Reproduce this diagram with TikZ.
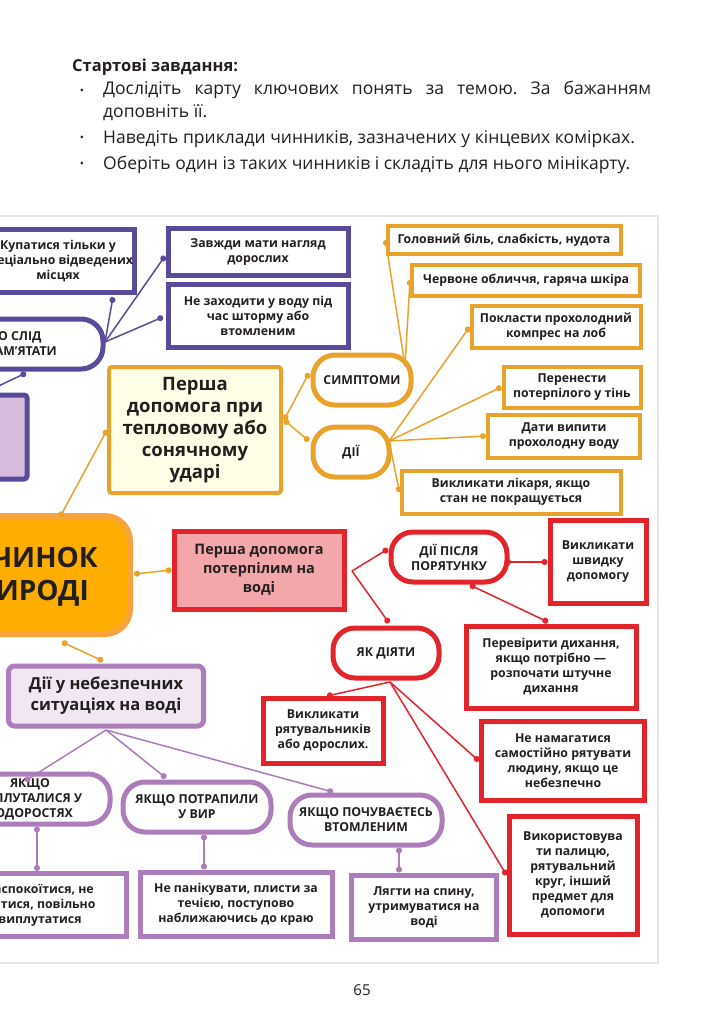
\documentclass[tikz,border=0pt]{standalone}
\usepackage{fontspec}
\setmainfont{Open Sans}
\usetikzlibrary{arrows.meta}
\frenchspacing
\definecolor{dpur}{HTML}{5A4A9C}
\definecolor{orng}{HTML}{E9A22A}
\definecolor{rd}{HTML}{E3242B}
\definecolor{lpur}{HTML}{AD7CBB}
\definecolor{cfill}{HTML}{FFAE00}
\definecolor{cdraw}{HTML}{F7A43E}
\definecolor{txt}{HTML}{231F20}
\tikzset{x=1pt,y=-1pt,
 every node/.style={text=txt,font=\fontsize{12.3}{15}\selectfont\bfseries,align=center,inner sep=1pt},
 box/.style={draw,fill=white,line width=5pt,minimum width=#1},
 dbox/.style={box=#1,draw=dpur},
 obox/.style={draw=orng,fill=white,line width=4pt,minimum width=#1},
 rbox/.style={box=#1,draw=rd},
 lbox/.style={box=#1,draw=lpur},
 pill/.style={draw,fill=white,line width=5pt,rounded corners=22pt,minimum width=#1,minimum height=50pt},
 con/.style={line width=1.5pt,{Circle[length=6pt]}-{Circle[length=6pt]}},
 conb/.style={line width=1.5pt,-{Circle[length=6pt]}},
 hd/.style={anchor=west,font=\fontsize{17.5}{23}\selectfont,inner sep=0},
}
\begin{document}
\begin{tikzpicture}
\useasboundingbox (0,0) rectangle (710,1024);
\clip (0,0) rectangle (710,1024);
\fill[white] (0,0) rectangle (710,1024);
% header
\node[hd,font=\fontsize{16.5}{19}\selectfont\bfseries] (h) at (72,67) {Стартові завдання:};
\foreach \y in {92,139,165}{\node[font=\fontsize{11}{19}\selectfont] at (82,\y) {•};}
\node[hd,anchor=north west,text width=548,align=justify] (b1) at (103,81) {Дослідіть карту ключових понять за темою. За бажанням\linebreak доповніть її.};
\node[hd] (b2) at (103,139) {Наведіть приклади чинників, зазначених у~кінцевих комірках.};
\node[hd] (b3) at (103,165) {Оберіть один із таких чинників і складіть для нього мінікарту.};
% panel
\draw[gray!20,line width=1.5pt] (-5,216) rectangle (658,963);
% ---------- dark purple
\node[dbox=140,minimum height=62] (p1) at (58,261) {Купатися тільки у\\ спеціально відведених\\ місцях};
\node[dbox=180,minimum height=46] (p2) at (258,252) {Завжди мати нагляд\\ дорослих};
\node[dbox=180,minimum height=63] (p3) at (258,316) {Не заходити у воду під\\ час шторму або\\ втомленим};
\node[pill=180,draw=dpur] (pp) at (13,344) {ЩО СЛІД\\ ЗАПАМ’ЯТАТИ};
\node[draw=dpur,fill=lpur!50,line width=5pt,rounded corners=3pt,minimum width=60,minimum height=84] (pb) at (-3,437) {};
\coordinate (pj) at (105,342);
\draw[dpur,conb] (pj) -- (113,297);
\draw[dpur,conb] (pj) -- (165,256);
\draw[dpur,conb] (pj) -- (163,317);
\coordinate (pl) at (-10,390);
\draw[dpur,conb] (pl) -- (26,373);
% ---------- orange
\node[obox=172,fill=yellow!10,minimum height=126,rounded corners=3pt,font=\fontsize{18.5}{22}\selectfont\bfseries] (ob) at (195,430) {Перша\\ допомога при\\ тепловому або\\ сонячному\\ ударі};
\node[pill=98,draw=orng] (sy) at (362,380) {СИМПТОМИ};
\node[pill=76,draw=orng] (di) at (351,452) {ДІЇ};
\node[obox=233,minimum height=28] (o1) at (504,240) {Головний біль, слабкість, нудота};
\node[obox=228,minimum height=31] (o2) at (526,280) {Червоне обличчя, гаряча шкіра};
\node[obox=169,minimum height=42] (o3) at (556,327) {Покласти прохолодний\\ компрес на лоб};
\node[obox=137,minimum height=41] (o4) at (572,387) {Перенести\\ потерпілого у тінь};
\node[obox=152,minimum height=43] (o5) at (564,436) {Дати випити\\ прохолодну воду};
\node[obox=219,minimum height=43] (o6) at (511,492) {Викликати лікаря, якщо\\ стан не покращується};
\coordinate (oj) at (284,420);
\draw[orng,con] (oj) -- (309,373);
\draw[orng,con] (oj) -- (309,441);
\coordinate (sj) at (405,366);
\draw[orng,conb] (sj) -- (o1.west);
\draw[orng,conb] (sj) -- (o2.west);
\coordinate (dj) at (389,441);
\foreach \n in {o3,o4,o5,o6}{\draw[orng,conb] (dj) -- (\n.west);}
% ---------- centre
\node[draw=cdraw,fill=cfill,line width=6pt,rounded corners=25pt,minimum width=280,minimum height=118] (c) at (-10,575) {};
\node[anchor=east,font=\fontsize{28}{32}\selectfont\bfseries] (c1) at (99,557) {ВЧИНОК};
\node[anchor=east,font=\fontsize{28}{32}\selectfont\bfseries] (c2) at (90,593) {У ПРИРОДІ};
\draw[orng,con] (60,517) -- (ob.west);
% ---------- red
\node[rbox=170,fill=rd!40!white,minimum height=78,font=\fontsize{14.5}{19}\selectfont\bfseries] (r0) at (259,570) {Перша допомога\\ потерпілим на\\ воді};
\draw[orng,con] (134,574) -- (r0.west);
\node[pill=116,draw=rd] (dp) at (449,557) {ДІЇ ПІСЛЯ\\ ПОРЯТУНКУ};
\node[rbox=96,minimum height=83] (r1) at (598,562) {Викликати\\ швидку\\ допомогу};
\node[pill=106,draw=rd] (yd) at (386,653) {ЯК ДІЯТИ};
\node[rbox=170,minimum height=82] (r2) at (551,667) {Перевірити дихання,\\ якщо потрібно —\\ розпочати штучне\\ дихання};
\node[rbox=120,minimum height=65] (r3) at (323,731) {Викликати\\ рятувальників\\ або дорослих.};
\node[rbox=163,minimum height=79] (r4) at (563,761) {Не намагатися\\ самостійно рятувати\\ людину, якщо це\\ небезпечно};
\node[rbox=128,minimum height=118] (r5) at (573,875) {Використовува\\ ти палицю,\\ рятувальний\\ круг, інший\\ предмет для\\ допомоги};
\coordinate (rj) at (352,571);
\draw[rd,conb] (rj) -- (388,549);
\draw[rd,conb] (rj) -- (389,623);
\draw[rd,con] (505,562) -- (r1.west);
\draw[rd,con] (470,585) -- (548,622);
\coordinate (yj) at (390,682);
\draw[rd,conb] (yj) -- (327,696);
\draw[rd,conb] (yj) -- (r4.west);
\draw[rd,conb] (yj) -- (r5.west);
% ---------- light purple
\node[lbox=195,fill=lpur!18!white,minimum height=60,rounded corners=6pt,font=\fontsize{16.5}{21}\selectfont\bfseries] (lp) at (106,696) {Дії у небезпечних\\ ситуаціях на воді};
\draw[orng,con] (62,642) -- (103,661);
\node[pill=160,draw=lpur] (q1) at (30,799) {ЯКЩО\\ ЗАПЛУТАЛИСЯ У\\ ВОДОРОСТЯХ};
\node[pill=148,draw=lpur] (q2) at (197,807) {ЯКЩО ПОТРАПИЛИ\\ У ВИР};
\node[pill=152,draw=lpur] (q3) at (366,820) {ЯКЩО ПОЧУВАЄТЕСЬ\\ ВТОМЛЕНИМ};
\node[lbox=172,minimum height=63] (s1) at (40,905) {Заспокоїтися, не\\ битися, повільно\\ виплутатися};
\node[lbox=192,minimum height=64] (s2) at (236,904) {Не панікувати, плисти за\\ течією, поступово\\ наближаючись до краю};
\node[lbox=145,minimum height=64] (s3) at (424,907) {Лягти на спину,\\ утримуватися на\\ воді};
\coordinate (lj) at (106,730);
\draw[lpur,conb] (lj) -- (25,781);
\draw[lpur,conb] (lj) -- (166,778);
\draw[lpur,conb] (lj) -- (333,792);
\draw[lpur,con] (q1.south -| 37,0) -- (s1.north -| 37,0);
\draw[lpur,con] (q2.south -| 204,0) -- (s2.north -| 204,0);
\draw[lpur,con] (q3.south -| 399,0) -- (s3.north -| 399,0);
% page number
\node[font=\fontsize{15}{18}\selectfont] (pg) at (362,990) {65};
\end{tikzpicture}
\end{document}
